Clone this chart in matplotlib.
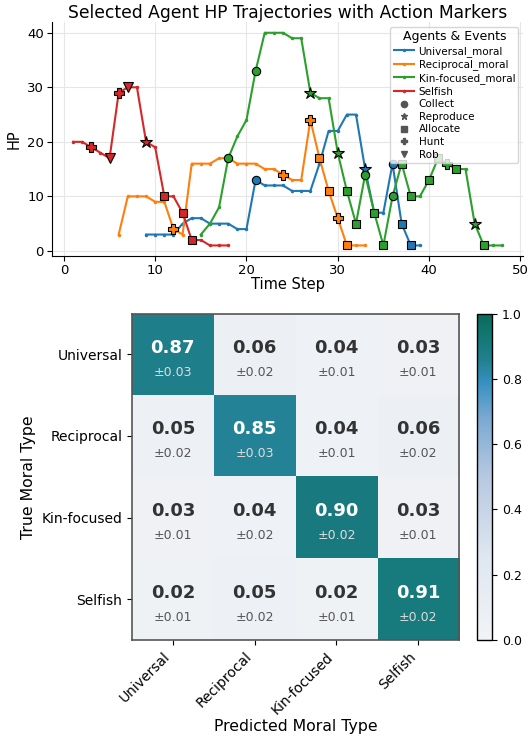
import numpy as np
import matplotlib
matplotlib.use("Agg")
import matplotlib.pyplot as plt
from matplotlib.colors import LinearSegmentedColormap
from matplotlib.lines import Line2D

# HP trajectories (start step + hp per step)
agent_names = ["Universal_moral", "Reciprocal_moral", "Kin-focused_moral", "Selfish"]
agent_colors = ["#1f77b4", "#ff7f0e", "#2ca02c", "#d62728"]
agent_start = [9, 6, 15, 1]
universal_hp = [3, 3, 3, 3, 5, 6, 6, 5, 5, 5, 4, 4, 13, 12, 12, 12, 11, 11, 11,
                16, 22, 22, 25, 25, 15, 7, 7, 16, 5, 1, 1]
reciprocal_hp = [3, 10, 10, 10, 9, 9, 4, 3, 16, 16, 16, 17, 17, 16, 16, 16, 15, 15,
                 14, 13, 13, 24, 17, 11, 6, 1, 1, 1]
kin_hp = [3, 5, 8, 17, 21, 24, 33, 40, 40, 40, 39, 39, 29, 28, 28, 18, 11, 5, 14,
          7, 1, 10, 16, 10, 10, 13, 17, 16, 15, 15, 5, 1, 1, 1]
selfish_hp = [20, 20, 19, 18, 17, 29, 30, 30, 20, 19, 10, 10, 7, 2, 2, 1, 1, 1]
agent_hp = [universal_hp, reciprocal_hp, kin_hp, selfish_hp]

# action events per agent: (time step, action)
universal_events = [(21, "Collect"), (33, "Reproduce"), (36, "Collect"),
                    (37, "Allocate"), (38, "Allocate")]
reciprocal_events = [(12, "Hunt"), (24, "Hunt"), (27, "Hunt"), (28, "Allocate"),
                     (29, "Allocate"), (30, "Hunt"), (31, "Allocate")]
kin_events = [(18, "Collect"), (21, "Collect"), (27, "Reproduce"), (30, "Reproduce"),
              (31, "Allocate"), (32, "Allocate"), (33, "Collect"), (34, "Allocate"),
              (35, "Allocate"), (36, "Collect"), (37, "Allocate"), (38, "Allocate"),
              (40, "Allocate"), (41, "Allocate"), (42, "Hunt"), (43, "Allocate"),
              (45, "Reproduce"), (46, "Allocate")]
selfish_events = [(3, "Hunt"), (5, "Rob"), (6, "Hunt"), (7, "Rob"), (9, "Reproduce"),
                  (11, "Allocate"), (13, "Allocate"), (14, "Allocate")]
agent_events = [universal_events, reciprocal_events, kin_events, selfish_events]

actions = ["Collect", "Reproduce", "Allocate", "Hunt", "Rob"]
action_markers = {"Collect": "o", "Reproduce": "*", "Allocate": "s", "Hunt": "P", "Rob": "v"}
action_sizes = {"Collect": 6, "Reproduce": 9, "Allocate": 6, "Hunt": 7.5, "Rob": 6.5}

# confusion matrix
moral_types = ["Universal", "Reciprocal", "Kin-focused", "Selfish"]
conf_mean = np.array([[0.87, 0.06, 0.04, 0.03],
                      [0.05, 0.85, 0.04, 0.06],
                      [0.03, 0.04, 0.90, 0.03],
                      [0.02, 0.05, 0.02, 0.91]])
conf_std = np.array([[0.03, 0.02, 0.01, 0.01],
                     [0.02, 0.03, 0.01, 0.02],
                     [0.01, 0.02, 0.02, 0.01],
                     [0.01, 0.02, 0.01, 0.02]])

fig = plt.figure(figsize=(5.32, 7.38), dpi=100)

# --- top panel: HP trajectories ---
ax = fig.add_axes([0.097, 0.653, 0.887, 0.317])
for name, color, t0, hp, events in zip(agent_names, agent_colors, agent_start,
                                        agent_hp, agent_events):
    steps = np.arange(t0, t0 + len(hp))
    ax.plot(steps, hp, color=color, lw=1.5, marker="o", markersize=1.5, zorder=2)
    for t, act in events:
        ax.plot(t, hp[t - t0], marker=action_markers[act], color=color,
                markersize=action_sizes[act], markeredgecolor="black",
                markeredgewidth=0.8, linestyle="none", zorder=3)

ax.set_title("Selected Agent HP Trajectories with Action Markers", fontsize=12.3, pad=3)
ax.set_xlabel("Time Step", fontsize=10.5, labelpad=0)
ax.set_ylabel("HP", fontsize=10.5)
ax.tick_params(labelsize=9.5, pad=2)
ax.grid(True, color="#e6e6e6", lw=0.8)
ax.set_axisbelow(True)
ax.spines["top"].set_visible(False)
ax.spines["right"].set_visible(False)

handles = [Line2D([0], [0], color=c, lw=1.5, marker="o", markersize=1.5, label=n)
           for n, c in zip(agent_names, agent_colors)]
handles += [Line2D([0], [0], color="#555555", marker=action_markers[a], linestyle="none",
                   markersize=4.5, label=a) for a in actions]
leg = ax.legend(handles=handles, title="Agents & Events", loc="upper right",
                fontsize=7.5, title_fontsize=9, handlelength=2.0,
                borderpad=0.3, labelspacing=0.25, handletextpad=0.4,
                bbox_to_anchor=(1.0, 1.0))

# --- bottom panel: confusion matrix ---
cmap = LinearSegmentedColormap.from_list(
    "moral", [(0.0, "#f1f3f6"), (0.25, "#dfe7f0"), (0.5, "#b7c8e1"),
              (0.68, "#7aa9d2"), (0.79, "#3690c0"), (0.86, "#21808f"),
              (0.91, "#177a7c"), (1.0, "#0a6b5a")])
hax = fig.add_axes([0.248, 0.133, 0.615, 0.442])
im = hax.imshow(conf_mean, cmap=cmap, vmin=0, vmax=1, aspect="auto")
for i in range(len(moral_types)):
    for j in range(len(moral_types)):
        v = conf_mean[i, j]
        high = v > 0.5
        hax.text(j, i - 0.08, f"{v:.2f}", ha="center", va="center", fontsize=13,
                 fontweight="bold", color="white" if high else "#333333")
        hax.text(j, i + 0.22, f"\u00b1{conf_std[i, j]:.2f}", ha="center", va="center",
                 fontsize=9, color="#dddddd" if high else "#555555")
hax.set_xticks(range(len(moral_types)))
hax.set_yticks(range(len(moral_types)))
hax.set_xticklabels(moral_types, rotation=45, ha="right", fontsize=10)
hax.set_yticklabels(moral_types, fontsize=10)
hax.set_xlabel("Predicted Moral Type", fontsize=11.3, labelpad=2)
hax.set_ylabel("True Moral Type", fontsize=11.3)
for s in hax.spines.values():
    s.set_color("#555555")
    s.set_linewidth(1.2)

cax = fig.add_axes([0.8966, 0.133, 0.0282, 0.442])
cb = fig.colorbar(im, cax=cax)
cb.ax.tick_params(labelsize=9)
cb.outline.set_linewidth(1.0)

fig.savefig("out.png", dpi=100)
